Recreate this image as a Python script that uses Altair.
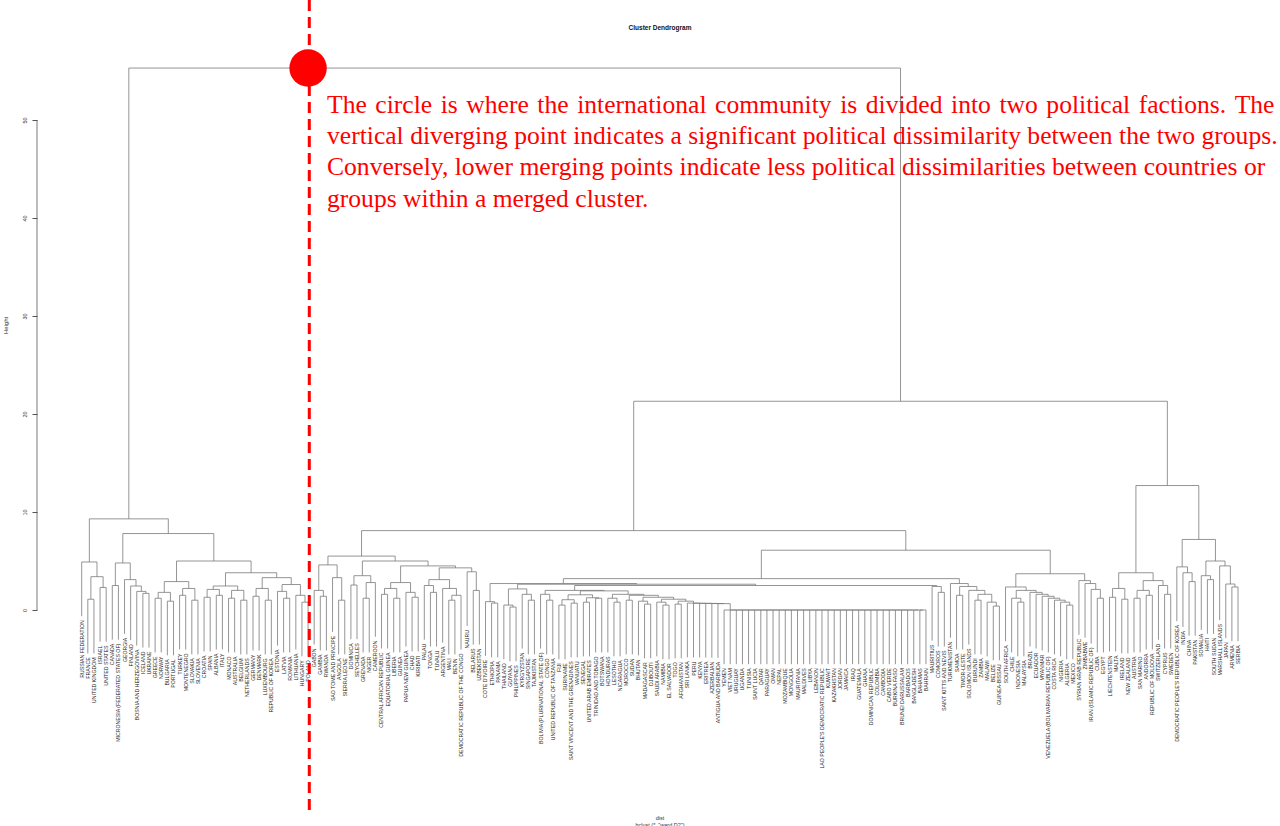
import altair as alt
import pandas as pd

LABELS = [
    "RUSSIAN FEDERATION", "FRANCE", "UNITED KINGDOM", "ISRAEL", "UNITED STATES", "CANADA",
    "MICRONESIA (FEDERATED STATES OF)", "GEORGIA", "FINLAND", "BOSNIA AND HERZEGOVINA", "ICELAND",
    "UKRAINE", "GREECE", "NORWAY", "BULGARIA", "PORTUGAL", "TURKEY", "MONTENEGRO", "SLOVAKIA",
    "SLOVENIA", "CROATIA", "SPAIN", "ALBANIA", "ITALY", "MONACO", "AUSTRALIA", "BELGIUM",
    "NETHERLANDS", "GERMANY", "DENMARK", "LUXEMBOURG", "REPUBLIC OF KOREA", "ESTONIA", "LATVIA",
    "ROMANIA", "LITHUANIA", "HUNGARY", "POLAND", "GABON", "GAMBIA", "RWANDA",
    "SAO TOME AND PRINCIPE", "ANGOLA", "SIERRA LEONE", "DOMINICA", "SEYCHELLES", "GRENADA", "NIGER",
    "CAMEROON", "CENTRAL AFRICAN REPUBLIC", "EQUATORIAL GUINEA", "LIBERIA", "GUINEA",
    "PAPUA NEW GUINEA", "CHAD", "KIRIBATI", "PALAU", "TONGA", "TUVALU", "ARGENTINA", "MALI", "BENIN",
    "DEMOCRATIC REPUBLIC OF THE CONGO", "NAURU", "BELARUS", "UZBEKISTAN", "COTE D'IVOIRE",
    "ETHIOPIA", "PANAMA", "THAILAND", "GUYANA", "PHILIPPINES", "KYRGYZSTAN", "SINGAPORE",
    "TAJIKISTAN", "BOLIVIA (PLURINATIONAL STATE OF)", "CONGO", "UNITED REPUBLIC OF TANZANIA", "FIJI",
    "SURINAME", "SAINT VINCENT AND THE GRENADINES", "VANUATU", "SENEGAL", "UNITED ARAB EMIRATES",
    "TRINIDAD AND TOBAGO", "BOTSWANA", "HONDURAS", "LESOTHO", "NICARAGUA", "MOROCCO", "SUDAN",
    "BHUTAN", "MADAGASCAR", "DJIBOUTI", "SAUDI ARABIA", "NAMIBIA", "EL SALVADOR", "TOGO",
    "AFGHANISTAN", "SRI LANKA", "PERU", "KENYA", "ERITREA", "AZERBAIJAN", "ANTIGUA AND BARBUDA",
    "YEMEN", "VIET NAM", "URUGUAY", "UGANDA", "TUNISIA", "SAINT LUCIA", "QATAR", "PARAGUAY", "OMAN",
    "NEPAL", "MOZAMBIQUE", "MONGOLIA", "MAURITANIA", "MALDIVES", "LIBYA", "LEBANON",
    "LAO PEOPLE'S DEMOCRATIC REPUBLIC", "KUWAIT", "KAZAKHSTAN", "JORDAN", "JAMAICA", "IRAQ",
    "GUATEMALA", "GHANA", "DOMINICAN REPUBLIC", "COLOMBIA", "CAMBODIA", "CABO VERDE",
    "BURKINA FASO", "BRUNEI DARUSSALAM", "BARBADOS", "BANGLADESH", "BAHAMAS", "BAHRAIN",
    "MAURITIUS", "COMOROS", "SAINT KITTS AND NEVIS", "TURKMENISTAN", "SAMOA", "TIMOR-LESTE",
    "SOLOMON ISLANDS", "BURUNDI", "ZAMBIA", "MALAWI", "BELIZE", "GUINEA-BISSAU", "SOUTH AFRICA",
    "CHILE", "INDONESIA", "MALAYSIA", "BRAZIL", "ECUADOR", "MYANMAR",
    "VENEZUELA (BOLIVARIAN REPUBLIC OF)", "COSTA RICA", "NIGERIA", "ALGERIA", "MEXICO",
    "SYRIAN ARAB REPUBLIC", "ZIMBABWE", "IRAN (ISLAMIC REPUBLIC OF)", "CUBA", "EGYPT",
    "LIECHTENSTEIN", "MALTA", "IRELAND", "NEW ZEALAND", "AUSTRIA", "SAN MARINO", "ANDORRA",
    "REPUBLIC OF MOLDOVA", "SWITZERLAND", "CYPRUS", "SWEDEN",
    "DEMOCRATIC PEOPLE'S REPUBLIC OF KOREA", "INDIA", "CHINA", "PAKISTAN", "SOMALIA", "HAITI",
    "SOUTH SUDAN", "MARSHALL ISLANDS", "JAPAN", "ARMENIA", "SERBIA",
]

# Merge tree: [height, child, child]; integers are leaf positions.
A1 = [4.9, 0, [3.4, [1.1, 1, 2], [2.3, 3, 4]]]
A2a = [4.8, [2.5, 5, 6], [3.1, 7, [2.45, 8, [1.9, 9, [1.7, 10, 11]]]]]
A2b1 = [2.9, [1.8, [1.2, 12, 13], [0.9, 14, 15]], [2.2, [1.5, 16, 17], [1.0, 18, 19]]]
A2b2 = [3.8,
        [2.45, [2.1, [1.3, 20, 21], [1.5, 22, 23]], [2.0, [1.2, 24, 25], [1.0, 26, 27]]],
        [3.3, [2.2, [1.4, 28, 29], [1.0, 30, 31]],
         [2.6, [1.9, 32, [1.2, 33, 34]], [1.5, 35, [0.8, 36, 37]]]]]
WEST = [9.3, A1, [7.8, A2a, [5.0, A2b1, A2b2]]]

B1L = [5.5,
       [4.6, [2.0, 38, [1.4, 39, 40]], [3.3, 41, [1.0, 42, 43]]],
       [5.0, [3.5, [2.55, 44, 45], [2.8, [1.2, 46, 47], 48]],
        [4.5, [2.8, [2.2, [1.6, 49, 50], [1.2, 51, 52]], [1.8, 53, [1.3, 54, 55]]],
         [4.3, [3.1, [2.5, 56, [1.8, 57, 58]], [2.2, 59, [1.5, [1.0, 60, 61], 62]]],
          [3.9, 63, [2.0, 64, 65]]]]]]

# staircase of small groups ending in the block of identical voting records (merged at 0)
STAIR_ITEMS = [[1.2, 86, [0.8, 87, 88]], [1.0, 89, 90], [0.9, 91, [0.6, 92, 93]],
               [0.8, 94, [0.5, 95, 96]], [0.6, 97, 98], 99, 100, 101, 102, 103, 104]
STAIR_HEIGHTS = [1.6, 1.5, 1.3, 1.1, 0.9, 0.70, 0.69, 0.68, 0.67, 0.66, 0.65]
FLAT_LEAVES = list(range(105, 139))
FLAT_HEIGHT = 0.0


def chain(items, heights, tail):
    node = tail
    for it, h in zip(reversed(items), reversed(heights)):
        node = [h, it, node]
    return node


FLAT = chain(FLAT_LEAVES[:-2], [FLAT_HEIGHT] * (len(FLAT_LEAVES) - 2),
             [FLAT_HEIGHT, FLAT_LEAVES[-2], FLAT_LEAVES[-1]])
STAIR = chain(STAIR_ITEMS, STAIR_HEIGHTS, FLAT)
N605 = [1.95, [1.55, [1.05, [0.5, 78, 79], [0.7, 80, 81]], [1.25, [0.8, 82, 83], [1.2, 84, 85]]], STAIR]
N578 = [2.0, [1.6, 75, [1.0, 76, 77]], N605]
P = [2.7, [0.85, 66, [0.7, 67, 68]],
     [2.63, [2.15, [0.5, 69, [0.3, 70, 71]], [1.6, 72, [1.0, 73, 74]]],
      [2.5, N578, [2.4, 139, [1.8, 140, 141]]]]]
Q = [2.7, 142, [2.4, [1.5, 143, 144], [2.0, 145, [1.6, [1.0, 146, 147], [0.8, 148, [0.4, 149, 150]]]]]]
R = [3.7,
     [2.35, 151, [2.0, [1.2, 152, [0.8, 153, 154]],
                  [1.8, 155, [1.6, 156, [1.4, 157, [1.2, 158, [1.0, 159, [0.8, 160, [0.5, 161, 162]]]]]]]]],
     [3.0, 163, [2.7, 164, [2.1, 165, [1.2, 166, 167]]]]]
B1R = [6.1, [3.2, P, Q], R]
B2 = [12.7,
      [3.8, [2.2, [1.3, 168, 169], [1.1, 170, 171]],
       [3.0, [2.0, [1.2, 172, 173], [1.5, 174, 175]], [2.5, 176, [1.6, 177, 178]]]],
      [7.2, [4.4, 179, [3.8, 180, [2.9, 181, 182]]],
       [5.0, [3.5, 183, [3.1, 184, 185]], [4.5, 186, [2.65, 187, [2.35, 188, 189]]]]]]
REST = [21.3, [8.1, B1L, B1R], B2]
TREE = [55.3, WEST, REST]

HANG = 0.1 * TREE[0]  # R's default hang

segs, leaves = [], []


def walk(node):
    if isinstance(node, int):
        return float(node), None
    h = node[0]
    kids = [(c, walk(c)) for c in node[1:]]
    xs = [k[1][0] for k in kids]
    segs.append({"x": xs[0], "x2": xs[-1], "y": h, "y2": h})
    for c, (kx, kh) in kids:
        if kh is None:
            bottom = h - HANG
            leaves.append({"x": kx, "y": bottom, "label": LABELS[c]})
            segs.append({"x": kx, "x2": kx, "y": h, "y2": bottom})
        else:
            segs.append({"x": kx, "x2": kx, "y": h, "y2": kh})
    return (xs[0] + xs[-1]) / 2, h


walk(TREE)
assert sorted(l["x"] for l in leaves) == [float(i) for i in range(len(LABELS))]
seg_df = pd.DataFrame(segs)
leaf_df = pd.DataFrame(leaves)

PX_PER_LEAF = 6.118
W, H = 1243, 570
x0 = -44.7 / PX_PER_LEAF
xs = alt.Scale(domain=[x0, x0 + W / PX_PER_LEAF], nice=False, zero=False)
ys = alt.Scale(domain=[0, H / 9.8], nice=False, zero=False)

AX = alt.Axis(values=[0, 10, 20, 30, 40, 50], domain=False, grid=False,
              labelAngle=270, labelFontSize=5.5, labelFont="Liberation Sans",
              labelColor="#333", tickColor="#555", tickSize=5, labelPadding=8,
              labelBaseline="middle", labelAlign="center",
              titleFontSize=6, titleFont="Liberation Sans", titleFontWeight="normal",
              titlePadding=14, titleColor="#333")

lines = alt.Chart(seg_df).mark_rule(color="#7a7a7a", strokeWidth=0.8).encode(
    x=alt.X("x:Q", scale=xs, axis=None),
    x2="x2:Q",
    y=alt.Y("y:Q", scale=ys, title="Height", axis=AX),
    y2="y2:Q",
)

axis_line = alt.Chart(pd.DataFrame({"a": [0], "b": [50]})).mark_rule(
    color="#555", strokeWidth=0.8).encode(
    x=alt.value(0), y=alt.Y("a:Q", scale=ys, title="Height", axis=AX), y2="b:Q")

labels = alt.Chart(leaf_df).mark_text(
    angle=270, align="right", baseline="middle", fontSize=5.2, dx=-4,
    font="Liberation Sans", color="#222").encode(
    x=alt.X("x:Q", scale=xs, axis=None), y=alt.Y("y:Q", scale=ys, title="Height", axis=AX),
    text="label:N")

cut = alt.Chart(pd.DataFrame({"x": [37.2]})).mark_rule(
    color="#ff0000", strokeWidth=3, strokeDash=[11, 6]).encode(
    x=alt.X("x:Q", scale=xs, axis=None), y=alt.value(-40), y2=alt.value(770))

circle = alt.Chart(pd.DataFrame({"x": [37.0], "y": [TREE[0]]})).mark_point(
    filled=True, color="#ff0000", opacity=1, size=1400, shape="circle").encode(
    x=alt.X("x:Q", scale=xs, axis=None), y=alt.Y("y:Q", scale=ys, title="Height", axis=AX))

NOTE = [
    "The circle is where the international community is divided into two political factions. The",
    "vertical diverging point indicates a significant political dissimilarity between the two groups.",
    "Conversely, lower merging points indicate less political dissimilarities between countries or",
    "groups within a merged cluster.",
]
# the first line is set justified in the picture: slightly wider word spaces
NOTE_SPACE = ["\u2004", " ", " ", " "]
notes = [
    alt.Chart(pd.DataFrame({"t": [line.replace(" ", NOTE_SPACE[i])]})).mark_text(
        align="left", baseline="alphabetic", font="Liberation Serif", fontSize=25.6,
        color="#ff0000").encode(x=alt.value(290), y=alt.value(73 + 31.2 * i), text="t:N")
    for i, line in enumerate(NOTE)
]

SUB = ["dist", 'hclust (*, "ward.D2")']
subs = [
    alt.Chart(pd.DataFrame({"t": [s]})).mark_text(
        align="center", baseline="alphabetic", fontSize=5.5, font="Liberation Sans",
        color="#333").encode(x=alt.value(623), y=alt.value(780 + 6.5 * i), text="t:N")
    for i, s in enumerate(SUB)
]

title = alt.Chart(pd.DataFrame({"t": ["Cluster Dendrogram"]})).mark_text(
    align="center", baseline="middle", fontSize=6.5, fontWeight="bold",
    font="Liberation Sans", color="#111").encode(x=alt.value(623), y=alt.value(-12), text="t:N")

chart = alt.layer(lines, axis_line, labels, cut, circle, title, *notes, *subs).properties(
    width=W, height=H,
    padding={"left": 37, "top": 40, "right": 0, "bottom": 216},
    autosize=alt.AutoSizeParams(type="none"),
).configure_view(stroke=None)

chart.save("out.html", embed_options={"renderer": "svg", "actions": False})
